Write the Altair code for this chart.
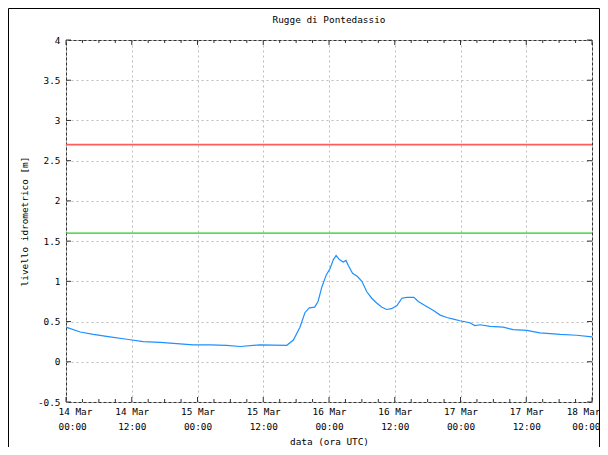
import altair as alt
import pandas as pd

chart_title = "Rugge di Pontedassio"
x_title = "data (ora UTC)"
y_title = "livello idrometrico [m]"

# hours after 14 Mar 00:00 UTC
hours = [0, 2.6, 5.0, 8.0, 11.1, 14.1, 17.2, 20.2, 23.2, 26.3, 29.3, 31.8, 35.4, 40.3,
         41.5, 42.7, 43.6, 44.4, 45.4, 46.0, 46.7, 47.5, 48.2, 48.8, 49.3, 49.9, 50.6,
         51.1, 51.5, 52.3, 53.2, 54.0, 54.9, 55.8, 56.7, 57.6, 58.5, 59.4, 60.4, 61.3,
         62.2, 63.5, 64.3, 65.5, 67.0, 68.3, 69.5, 70.7, 71.9, 73.7, 74.6, 75.6, 77.4,
         79.8, 81.6, 84.1, 86.5, 90.2, 93.2, 96.0]
levels = [0.43, 0.37, 0.34, 0.31, 0.28, 0.25, 0.24, 0.225, 0.21, 0.21, 0.205, 0.19, 0.21, 0.205,
          0.27, 0.43, 0.61, 0.67, 0.68, 0.75, 0.93, 1.08, 1.16, 1.27, 1.32, 1.27, 1.24,
          1.26, 1.20, 1.10, 1.06, 1.00, 0.87, 0.79, 0.73, 0.68, 0.65, 0.66, 0.70, 0.79,
          0.80, 0.80, 0.75, 0.70, 0.64, 0.58, 0.55, 0.53, 0.51, 0.485, 0.45, 0.46, 0.44,
          0.43, 0.40, 0.39, 0.36, 0.34, 0.33, 0.31]

alarm_level = [2.7]
warning_level = [1.6]

x_major = [0, 12, 24, 36, 48, 60, 72, 84, 96]
x_minor = [3, 6, 9, 15, 18, 21, 27, 30, 33, 39, 42, 45, 51, 54, 57, 63, 66, 69, 75, 78, 81, 87, 90, 93]
y_major = [-0.5, 0, 0.5, 1, 1.5, 2, 2.5, 3, 3.5, 4]

W, H = 526, 362
FONT = "DejaVu Sans Mono"
FS = 9.4

xs = alt.Scale(domain=[0, 96], nice=False, zero=False)
ys = alt.Scale(domain=[-0.5, 4], nice=False, zero=False)

df = pd.DataFrame({"h": hours, "lvl": levels})
alarm_df = pd.DataFrame({"lvl": alarm_level})
warn_df = pd.DataFrame({"lvl": warning_level})
xmaj = pd.DataFrame({"h": x_major})
xmin = pd.DataFrame({"h": x_minor})
ymaj = pd.DataFrame({"lvl": y_major})

x_label_expr = ("[(14 + floor(datum.value / 24)) + ' Mar', "
                "(datum.value % 24 == 0 ? '00:00' : '12:00')]")

x_axis = alt.Axis(values=x_major, labelExpr=x_label_expr, title=x_title,
                  labelPadding=5, titlePadding=7, labelLineHeight=15,
                  labelFlush=True, labelFlushOffset=8, labelOverlap=False)
y_axis = alt.Axis(values=y_major, labelExpr="'' + datum.value", title=y_title,
                  labelPadding=6, titlePadding=8, labelFlush=False)

X = alt.X("h:Q", scale=xs, axis=x_axis)
Y = alt.Y("lvl:Q", scale=ys, axis=y_axis)

line = alt.Chart(df).mark_line(color="#1e90ff", strokeWidth=1.2).encode(x=X, y=Y)

alarm = alt.Chart(alarm_df).mark_rule(color="#ff5c5c", strokeWidth=1.6).encode(y=Y)
warning = alt.Chart(warn_df).mark_rule(color="#22cc22", strokeWidth=1.2).encode(y=Y)

tick_col = "#333333"
ticks = [
    alt.Chart(xmaj).mark_rule(color=tick_col).encode(x=X, y=alt.value(H), y2=alt.value(H - 5)),
    alt.Chart(xmaj).mark_rule(color=tick_col).encode(x=X, y=alt.value(0), y2=alt.value(5)),
    alt.Chart(xmin).mark_rule(color=tick_col).encode(x=X, y=alt.value(H), y2=alt.value(H - 3)),
    alt.Chart(xmin).mark_rule(color=tick_col).encode(x=X, y=alt.value(0), y2=alt.value(3)),
    alt.Chart(ymaj).mark_rule(color=tick_col).encode(y=Y, x=alt.value(0), x2=alt.value(5)),
    alt.Chart(ymaj).mark_rule(color=tick_col).encode(y=Y, x=alt.value(W), x2=alt.value(W - 5)),
]

frame = alt.Chart(pd.DataFrame({"a": [0]})).mark_rect(
    filled=False, stroke="black", strokeWidth=1).encode(
    x=alt.value(-57.5), x2=alt.value(533.5), y=alt.value(-31.5), y2=alt.value(H + 60))

chart = alt.layer(line, alarm, warning, *ticks, frame).properties(
    width=W, height=H,
    title=alt.TitleParams(chart_title, font=FONT, fontSize=FS, fontWeight="normal",
                          color="black", offset=0, dy=17, frame="group"),
    autosize=alt.AutoSizeParams(type="none"),
    padding={"left": 58, "top": 32, "right": 8, "bottom": 45},
    background="white",
).configure_view(
    stroke="#333333", strokeWidth=1
).configure_axis(
    labelFont=FONT, labelFontSize=FS, labelColor="black",
    titleFont=FONT, titleFontSize=FS, titleFontWeight="normal", titleColor="black",
    tickSize=0, domain=False, grid=True, gridColor="#bdbdbd", gridDash=[2, 3],
    gridOpacity=1, gridWidth=1,
)

chart.save("out.html", embed_options={"renderer": "svg", "actions": False})
